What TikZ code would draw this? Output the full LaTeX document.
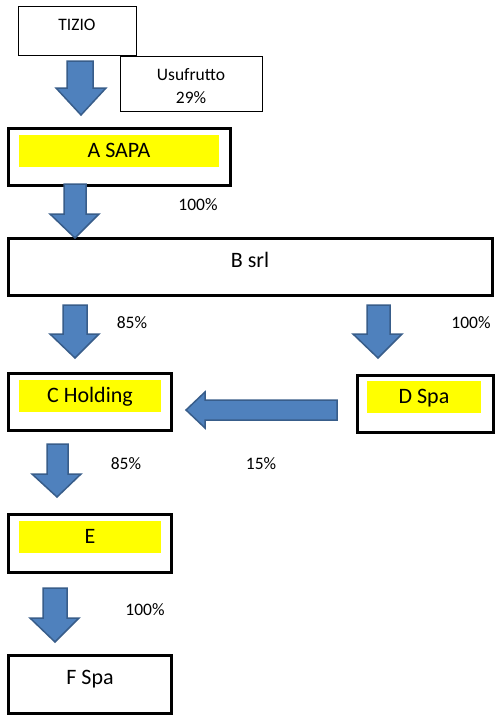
\documentclass[tikz,border=0pt]{standalone}
\usepackage{fontspec}
\setmainfont{Carlito}
\usetikzlibrary{fit}
\definecolor{arrowfill}{HTML}{4F81BD}
\definecolor{arrowline}{HTML}{385D8A}
\definecolor{hlyellow}{HTML}{FFFF00}
% down block arrow: shaft left, shaft right, top, head left, head right, head y, tip x, tip y
\newcommand{\blkdown}[8]{%
  \draw[blk] (#1,#3) -- (#2,#3) -- (#2,#6) -- (#5,#6) -- (#7,#8) -- (#4,#6) -- (#1,#6) -- cycle;}
\begin{document}
\begin{tikzpicture}[x=1pt,y=-1pt,
  thinbox/.style={draw=black, line width=1pt, inner sep=0pt, outer sep=0pt},
  thickbox/.style={draw=black, line width=3pt, inner sep=0pt, outer sep=0pt},
  hl/.style={fill=hlyellow, inner sep=0pt, outer sep=0pt},
  bigtxt/.style={font=\fontsize{22}{26}\selectfont, inner sep=0pt, anchor=base},
  smalltxt/.style={font=\fontsize{17.5}{21}\selectfont, inner sep=0pt, anchor=base},
  blk/.style={fill=arrowfill, draw=arrowline, line width=1.5pt, line join=miter}]
\useasboundingbox (0,0) rectangle (503,723);
\fill[white] (0,0) rectangle (503,723);

% TIZIO
\node[thinbox, fit={(18.5,6.5)(136.5,55.5)}] (tizio) {};
\node[smalltxt] (tiziot) at (77,30) {TIZIO};
% Usufrutto
\node[thinbox, fit={(120.5,56.5)(262.5,111.5)}] (usuf) {};
\node[smalltxt] (usuft1) at (191,80) {Usufrutto};
\node[smalltxt] (usuft2) at (191,103) {29\%};

% A SAPA
\node[thickbox, fit={(8.5,128.5)(230.5,185.5)}] (asapa) {};
\node[hl, fit={(19,135)(219,167)}] (asapahl) {};
\node[bigtxt] (asapat) at (119,157) {A SAPA};

% B srl
\node[thickbox, fit={(8.5,238.5)(492.5,295.5)}] (bsrl) {};
\node[bigtxt] (bsrlt) at (250,267) {B srl};

% C Holding
\node[thickbox, fit={(8.5,373.5)(171.5,430.5)}] (chold) {};
\node[hl, fit={(19,380)(161,412)}] (choldhl) {};
\node[bigtxt] (choldt) at (90,402) {C Holding};

% D Spa
\node[thickbox, fit={(357.5,375.5)(493.5,432.5)}] (dspa) {};
\node[hl, fit={(367,381)(481,413)}] (dspahl) {};
\node[bigtxt] (dspat) at (424,403) {D Spa};

% E
\node[thickbox, fit={(8.5,514.5)(171.5,572.5)}] (ebox) {};
\node[hl, fit={(19,521)(161,553)}] (ehl) {};
\node[bigtxt] (et) at (90,543) {E};

% F Spa
\node[thickbox, fit={(8.5,655.5)(171.5,713.5)}] (fspa) {};
\node[bigtxt] (fspat) at (90,684) {F Spa};

% percentages
\node[smalltxt] (p1) at (198,210) {100\%};
\node[smalltxt] (p2) at (132,328) {85\%};
\node[smalltxt] (p3) at (471,328) {100\%};
\node[smalltxt] (p4) at (126,469) {85\%};
\node[smalltxt] (p5) at (261,469) {15\%};
\node[smalltxt] (p6) at (145,615) {100\%};

% block arrows
\blkdown{67}{93}{61}{56}{106}{88}{81}{115}
\blkdown{64}{86}{184}{50}{99}{214}{75}{238}
\blkdown{63}{87}{305}{50}{99}{334}{75}{358}
\blkdown{367}{390}{305}{353}{402}{334}{378}{358}
\blkdown{47}{68}{444}{32}{81}{474}{57}{497}
\blkdown{43}{67}{588}{30}{79}{618}{55}{642}
% horizontal arrow D -> C
\draw[blk] (337,400) -- (337,420) -- (205,420) -- (205,428) -- (186,410) -- (205,392) -- (205,400) -- cycle;
\end{tikzpicture}
\end{document}
